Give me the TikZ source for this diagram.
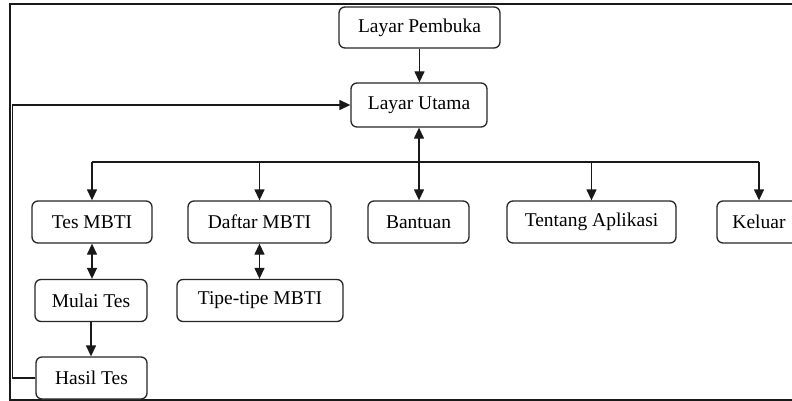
\documentclass[tikz,border=0pt]{standalone}
\usepackage{fontspec}
\setmainfont{Liberation Serif}
\newfontfamily\tnrfont{Liberation Serif}
\usetikzlibrary{arrows.meta}
\begin{document}
\begin{tikzpicture}[x=1pt,y=-1pt,
 box/.style={draw=black!85, rounded corners=6pt, line width=1.3pt, inner sep=0pt, font=\tnrfont\fontsize{19.5}{22}\selectfont, fill=white, minimum height=42pt},
 conn/.style={line width=1.3pt, draw=black!90},
 tip/.style={},
 arr/.style={conn,-{Triangle[width=10pt,length=11pt]}},
 darr/.style={conn,{Triangle[width=10pt,length=11pt]}-{Triangle[width=10pt,length=11pt]}}]
\useasboundingbox (0,0) rectangle (792,401);
\clip (0,0) rectangle (792,401);
% frame
\draw[line width=2pt, black!90] (792,4.5) -- (10,4.5) -- (10,400) -- (792,400);
% nodes
\node[box, minimum width=161pt, minimum height=41pt] (pembuka) at (419.5,27.5) {Layar Pembuka};
\node[box, minimum width=136pt, minimum height=44pt] (utama) at (419,105) {Layar Utama};
\node[box, minimum width=120pt] (tes) at (92,222) {Tes MBTI};
\node[box, minimum width=143pt] (daftar) at (259.5,222) {Daftar MBTI};
\node[box, minimum width=101pt] (bantuan) at (418.5,222) {Bantuan};
\node[box, minimum width=169pt] (tentang) at (591.5,222) {Tentang Aplikasi};
\node[box, minimum width=84pt] (keluar) at (759,222) {Keluar};
\node[box, minimum width=112pt] (mulai) at (91,300.5) {Mulai Tes};
\node[box, minimum width=166pt] (tipe) at (260,300.5) {Tipe-tipe MBTI};
\node[box, minimum width=111pt] (hasil) at (91.5,378) {Hasil Tes};
% connectors
\coordinate (bus) at (0,162);
\coordinate (fb) at (12.5,0);
\draw[arr] (pembuka.south) -- (pembuka.south |- utama.north);
\draw[conn] (tes.north |- bus) -- (keluar.north |- bus);
\draw[arr] (tes.north |- bus) -- (tes.north);
\draw[arr] (daftar.north |- bus) -- (daftar.north);
\draw[arr] (tentang.north |- bus) -- (tentang.north);
\draw[arr] (keluar.north |- bus) -- (keluar.north);
\draw[darr] (utama.south) -- (utama.south |- bantuan.north);
\draw[darr] (tes.south) -- (tes.south |- mulai.north);
\draw[darr] (daftar.south) -- (daftar.south |- tipe.north);
\draw[arr] (mulai.south) -- (mulai.south |- hasil.north);
\draw[arr] (hasil.west) -- (hasil.west -| fb) -- (fb |- utama.west) -- (utama.west);
\end{tikzpicture}
\end{document}
